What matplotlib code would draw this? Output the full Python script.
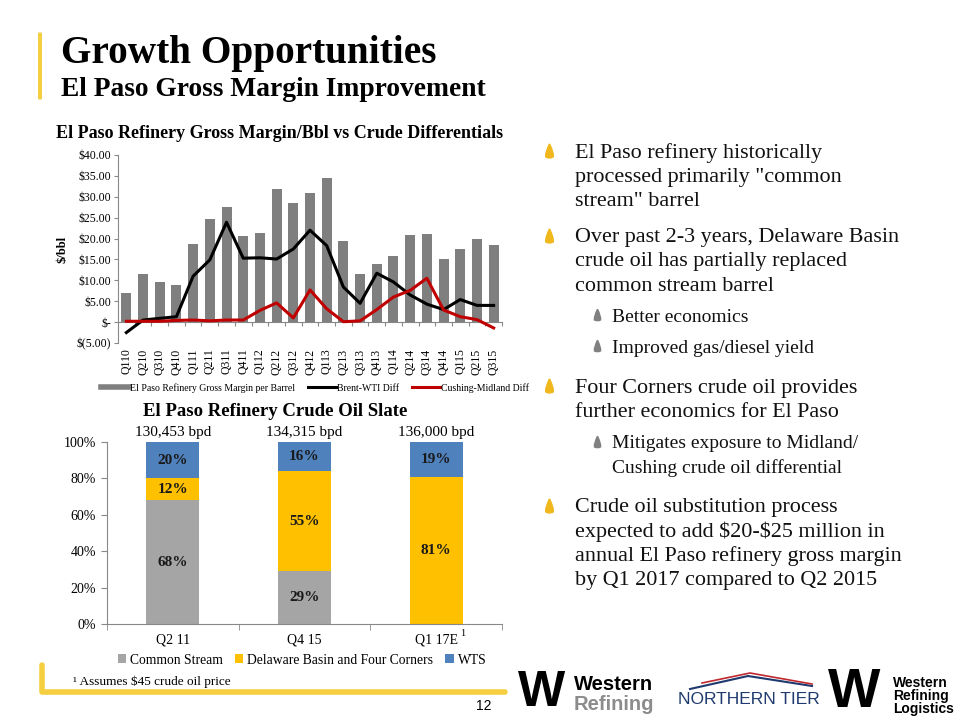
import numpy as np
import matplotlib.pyplot as plt
from matplotlib.path import Path
from matplotlib.patches import FancyBboxPatch
from matplotlib.lines import Line2D

# ---- data: gross margin vs differentials ----
quarters = ["Q110", "Q210", "Q310", "Q410", "Q111", "Q211", "Q311", "Q411",
            "Q112", "Q212", "Q312", "Q412", "Q113", "Q213", "Q313", "Q413",
            "Q114", "Q214", "Q314", "Q414", "Q115", "Q215", "Q315"]
gross_margin = [6.85, 11.5, 9.7, 8.8, 18.6, 24.6, 27.5, 20.6, 21.3, 31.9, 28.4, 30.8,
                34.6, 19.4, 11.5, 13.8, 15.8, 20.9, 21.0, 15.0, 17.5, 20.0, 18.4]
brent_wti = [-2.5, 0.5, 0.9, 1.3, 11.0, 14.9, 23.9, 15.3, 15.4, 15.1, 17.5, 22.0,
             18.3, 8.4, 4.5, 11.7, 9.6, 6.5, 4.3, 3.0, 5.4, 4.0, 4.0]
cushing_midland = [0.2, 0.2, 0.2, 0.4, 0.5, 0.3, 0.5, 0.5, 2.8, 4.6, 1.0, 7.7,
                   3.2, 0.1, 0.3, 3.0, 6.0, 7.6, 10.5, 2.9, 1.3, 0.6, -1.4]
margin_ticks = [-5, 0, 5, 10, 15, 20, 25, 30, 35, 40]
margin_ticklabels = ["\\$(5.00)", "\\$-", "\\$5.00", "\\$10.00", "\\$15.00", "\\$20.00",
                     "\\$25.00", "\\$30.00", "\\$35.00", "\\$40.00"]

# ---- data: crude oil slate ----
slate_periods = ["Q2 11", "Q4 15", "Q1 17E"]
common_stream = [68, 29, 0]
delaware_fc = [12, 55, 81]
wts = [20, 16, 19]
throughput = ["130,453 bpd", "134,315 bpd", "136,000 bpd"]

bullets = [
    (0, ["El Paso refinery historically", 'processed primarily "common', 'stream" barrel']),
    (0, ["Over past 2-3 years, Delaware Basin", "crude oil has partially replaced",
         "common stream barrel"]),
    (1, ["Better economics"]),
    (1, ["Improved gas/diesel yield"]),
    (0, ["Four Corners crude oil provides", "further economics for El Paso"]),
    (1, ["Mitigates exposure to Midland/", "Cushing crude oil differential"]),
    (0, ["Crude oil substitution process", "expected to add \\$20-\\$25 million in",
         "annual El Paso refinery gross margin", "by Q1 2017 compared to Q2 2015"]),
]

SERIF = "Liberation Serif"
YELLOW = "#F5CF3F"

plt.rcParams["font.family"] = SERIF

fig = plt.figure(figsize=(9.6, 7.2), dpi=100)
W, H = 960, 720


def fx(px):
    return px / W


def fy(py):
    return 1 - py / H


# ---- header ----
fig.patches.append(FancyBboxPatch((fx(38), fy(100)), fx(4), fy(32) - fy(100),
                                  boxstyle="round,pad=0,rounding_size=0.003",
                                  transform=fig.transFigure, color=YELLOW, lw=0))
fig.text(fx(61), fy(54), "Growth Opportunities", fontsize=28.3, fontweight="bold",
         va="center", ha="left")
fig.text(fx(61), fy(89), "El Paso Gross Margin Improvement", fontsize=19.8,
         fontweight="bold", va="center", ha="left")

# ---- top chart ----
ax1 = fig.add_axes([fx(118), fy(343), fx(384), fy(155) - fy(343)])
x = np.arange(len(quarters))
ax1.bar(x, gross_margin, width=0.6, color="#7F7F7F", zorder=2)
ax1.plot(x, brent_wti, color="black", lw=2.2, zorder=3)
ax1.plot(x, cushing_midland, color="#C00000", lw=2.2, zorder=3)
ax1.set_xlim(-0.5, len(quarters) - 0.5)
ax1.set_ylim(-5, 40)
ax1.set_yticks(margin_ticks)
ax1.set_yticklabels(margin_ticklabels, fontsize=8.5)
for s in ["top", "right"]:
    ax1.spines[s].set_visible(False)
ax1.spines["left"].set_color("#888888")
ax1.spines["bottom"].set_position(("data", 0))
ax1.spines["bottom"].set_color("#888888")
ax1.set_xticks(x + 0.5)
ax1.set_xticklabels([])
ax1.tick_params(axis="x", length=3, color="#888888")
ax1.tick_params(axis="y", length=3, color="#888888", pad=2)
sec = ax1.secondary_xaxis("bottom")
sec.set_xticks(x)
sec.set_xticklabels(quarters, rotation=90, fontsize=8.5)
sec.tick_params(length=0, pad=4)
sec.spines["bottom"].set_visible(False)
ax1.set_ylabel("\\$/bbl", fontsize=9, fontweight="bold", labelpad=6)
fig.text(fx(280), fy(133), "El Paso Refinery Gross Margin/Bbl vs Crude Differentials",
         fontsize=13, fontweight="bold", ha="center", va="center")
leg_handles = [Line2D([], [], color="#7F7F7F", lw=4),
               Line2D([], [], color="black", lw=2.2),
               Line2D([], [], color="#C00000", lw=2.2)]
fig.legend(leg_handles, ["El Paso Refinery Gross Margin per Barrel", "Brent-WTI Diff",
                         "Cushing-Midland Diff"],
           loc="center", bbox_to_anchor=(fx(315), fy(388)), ncol=3, frameon=False,
           fontsize=7, handlelength=2.8, handletextpad=0.1, columnspacing=1.4)

# ---- bottom chart ----
ax2 = fig.add_axes([fx(107), fy(624), fx(395), fy(442) - fy(624)])
xs = np.arange(len(slate_periods))
cs = np.array(common_stream)
de = np.array(delaware_fc)
wt = np.array(wts)
ax2.bar(xs, cs, width=0.4, color="#A5A5A5", label="Common Stream", zorder=2)
ax2.bar(xs, de, width=0.4, bottom=cs, color="#FFC000",
        label="Delaware Basin and Four Corners", zorder=2)
ax2.bar(xs, wt, width=0.4, bottom=cs + de, color="#4F81BD", label="WTS", zorder=2)
for i in range(len(xs)):
    base = 0
    for vals in (cs, de, wt):
        v = vals[i]
        if v > 0:
            ax2.text(xs[i], base + v / 2, f"{v}%", ha="center", va="center",
                     fontsize=11, fontweight="bold", color="#1a1a1a", zorder=3)
        base += v
    ax2.annotate(throughput[i], (xs[i], 100), xytext=(0, 2), textcoords="offset points",
                 ha="center", va="bottom", fontsize=11)
ax2.set_xlim(-0.5, 2.5)
ax2.set_ylim(0, 100)
ax2.set_yticks([0, 20, 40, 60, 80, 100])
ax2.set_yticklabels([f"{v}%" for v in [0, 20, 40, 60, 80, 100]], fontsize=10)
ax2.set_xticks(xs)
ax2.set_xticklabels(slate_periods, fontsize=10)
ax2.set_xticks([-0.5, 0.5, 1.5, 2.5], minor=True)
ax2.tick_params(axis="x", which="major", length=0, pad=7)
ax2.tick_params(axis="x", which="minor", length=4, color="#888888")
ax2.tick_params(axis="y", length=4, color="#888888", pad=4)
for s in ["top", "right"]:
    ax2.spines[s].set_visible(False)
ax2.spines["left"].set_color("#888888")
ax2.spines["bottom"].set_color("#888888")
ax2.annotate("1", (2, 0), xytext=(17, -6.5), textcoords="offset points",
             fontsize=7.5, ha="left", va="center")
fig.text(fx(275), fy(412), "El Paso Refinery Crude Oil Slate", fontsize=13.5,
         fontweight="bold", ha="center", va="center")
fig.legend(*ax2.get_legend_handles_labels(), loc="center",
           bbox_to_anchor=(fx(302), fy(660)), ncol=3, frameon=False, fontsize=9.8,
           handlelength=0.6, handleheight=0.6, handletextpad=0.3, columnspacing=0.9)

# ---- footnote and bottom rule ----
fig.text(fx(73), fy(682), "\u00b9 Assumes \\$45 crude oil price", fontsize=9.5,
         ha="left", va="center")
fig.add_artist(Line2D([fx(42), fx(42), fx(505)], [fy(665), fy(692), fy(692)],
                      transform=fig.transFigure, color=YELLOW, lw=4,
                      solid_capstyle="round", solid_joinstyle="round"))
fig.text(fx(484), fy(706), "12", fontsize=10, ha="center", va="center",
         family="Liberation Sans")

# ---- bullets on the right ----
drop = Path([(0, 1), (0.55, -0.1), (0.5, -0.7), (0, -1), (-0.5, -0.7), (-0.55, -0.1), (0, 1)],
            [Path.MOVETO, Path.CURVE3, Path.CURVE3, Path.CURVE3, Path.CURVE3,
             Path.CURVE3, Path.CURVE3])
y_cur = 153
prev_level = None
for level, lines in bullets:
    if prev_level is not None:
        if level == 1:
            y_cur += 31
        else:
            y_cur += 36 if prev_level == 0 else 40
    if level == 0:
        tx, bx, fs, col, ms = 575, 549, 15.9, "#F0B81C", 11
    else:
        tx, bx, fs, col, ms = 612, 597, 14, "#808080", 9
    fig.add_artist(Line2D([fx(bx)], [fy(y_cur - 2)], transform=fig.transFigure,
                          marker=drop, markersize=ms, color=col, lw=0))
    for j, line in enumerate(lines):
        fig.text(fx(tx), fy(y_cur + j * 24.3), line, fontsize=fs, ha="left",
                 va="center", color="#111111")
    y_cur += 24.3 * (len(lines) - 1)
    prev_level = level

# ---- logos (approximated as text) ----
fig.text(fx(518), fy(693), "W", fontsize=36, fontweight="bold", family="Liberation Sans",
         ha="left", va="center")
fig.text(fx(574), fy(685), "Western", fontsize=14.5, fontweight="bold",
         family="Liberation Sans", ha="left", va="center")
fig.text(fx(574), fy(704), "Refining", fontsize=14.5, fontweight="bold",
         family="Liberation Sans", ha="left", va="center", color="#8C8C8C")
fig.text(fx(749), fy(699), "NORTHERN TIER", fontsize=12.5, family="Liberation Sans",
         ha="center", va="center", color="#1F3A6E")
fig.add_artist(Line2D([fx(690), fx(748), fx(812)], [fy(689), fy(676), fy(686)],
                      transform=fig.transFigure, color="#1F3A6E", lw=1.5))
fig.add_artist(Line2D([fx(702), fx(750), fx(812)], [fy(683), fy(673), fy(684)],
                      transform=fig.transFigure, color="#C0282D", lw=1.2))
fig.text(fx(828), fy(693), "W", fontsize=40, fontweight="bold", family="Liberation Sans",
         ha="left", va="center")
fig.text(fx(893), fy(683), "Western", fontsize=10, fontweight="bold",
         family="Liberation Sans", ha="left", va="center")
fig.text(fx(893), fy(696), "Refining", fontsize=10, fontweight="bold",
         family="Liberation Sans", ha="left", va="center")
fig.text(fx(893), fy(709), "Logistics", fontsize=10, fontweight="bold",
         family="Liberation Sans", ha="left", va="center")

fig.savefig("out.png", dpi=100)
